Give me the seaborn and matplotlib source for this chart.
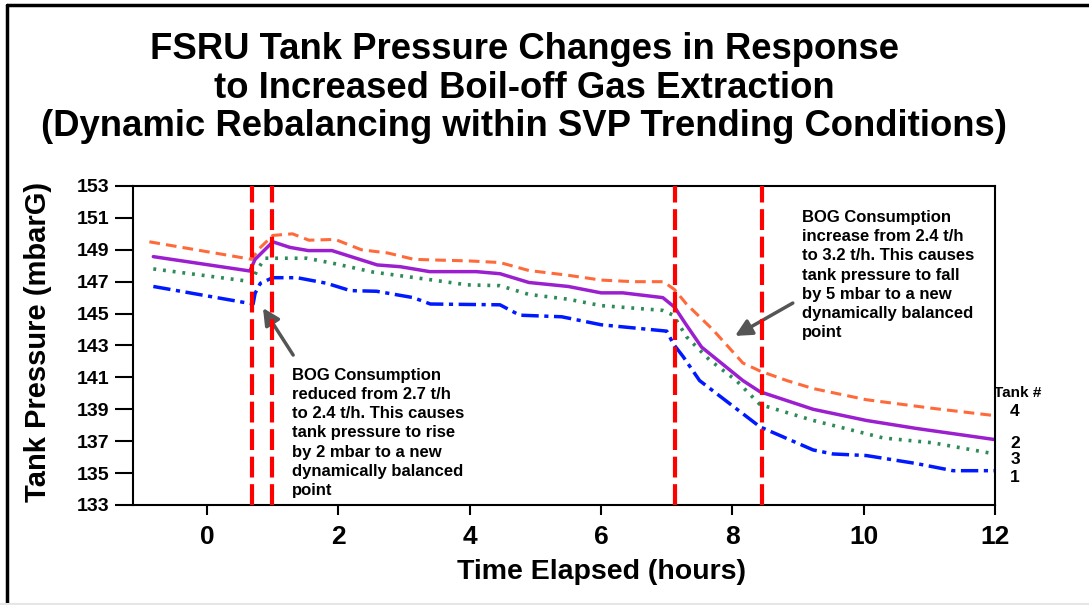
import seaborn as sns
import matplotlib.pyplot as plt
from matplotlib.lines import Line2D

# ---- data ----
t_tank4 = [-0.88, 0.68, 0.8, 1.0, 1.3, 1.55, 1.95, 2.35, 2.75, 3.15, 3.55, 4.0, 4.46,
           4.9, 5.5, 6.0, 6.5, 6.95, 7.12, 7.3, 7.7, 8.16, 8.42, 8.83, 9.23, 10.04, 11.05, 12.0]
p_tank4 = [149.5, 148.4, 149.1, 149.9, 150.0, 149.6, 149.65, 149.0, 148.8, 148.4, 148.35, 148.3, 148.2,
           147.7, 147.4, 147.1, 147.0, 147.0, 146.5, 145.6, 144.0, 141.9, 141.4, 140.8, 140.3, 139.6, 139.06, 138.6]

t_tank2 = [-0.82, 0.65, 0.73, 1.0, 1.26, 1.54, 1.9, 2.59, 2.94, 3.39, 4.1, 4.46, 4.9, 5.5,
           6.0, 6.33, 6.94, 7.12, 7.28, 7.53, 7.8, 8.16, 8.42, 9.23, 10.04, 10.8, 12.0]
p_tank2 = [148.57, 147.67, 148.4, 149.5, 149.15, 148.95, 148.95, 148.05, 147.94, 147.63, 147.63, 147.5, 146.95, 146.7,
           146.3, 146.3, 146.0, 145.4, 144.4, 142.9, 142.0, 140.8, 140.1, 139.0, 138.3, 137.8, 137.1]

t_tank3 = [-0.82, 0.68, 0.76, 0.88, 1.52, 1.92, 2.53, 3.44, 3.96, 4.46, 4.9, 5.5, 6.0,
           6.63, 6.94, 7.1, 7.3, 7.65, 8.06, 8.42, 9.23, 10.3, 11.05, 12.0]
p_tank3 = [147.8, 147.0, 147.73, 148.47, 148.47, 148.15, 147.6, 147.1, 146.8, 146.75, 146.2, 145.9, 145.5,
           145.3, 145.2, 144.9, 143.55, 142.1, 140.8, 139.3, 138.3, 137.2, 136.9, 136.2]

t_tank1 = [-0.82, 0.7, 0.73, 0.81, 1.0, 1.37, 1.82, 2.18, 2.58, 3.14, 3.4, 4.46, 4.76, 5.4,
           6.0, 7.0, 7.1, 7.25, 7.5, 8.42, 9.23, 9.53, 10.04, 10.8, 11.36, 12.0]
p_tank1 = [146.7, 145.6, 146.27, 146.9, 147.25, 147.25, 146.9, 146.44, 146.4, 146.0, 145.6, 145.55, 144.9, 144.8,
           144.3, 143.9, 143.1, 142.3, 140.8, 137.9, 136.45, 136.2, 136.1, 135.6, 135.15, 135.15]

event_times = [0.685, 0.99, 7.12, 8.45]
x_ticks = [0, 2, 4, 6, 8, 10, 12]
y_ticks = list(range(133, 154, 2))
tank_labels = ["4", "2", "3", "1"]

# ---- style ----
sns.set_style("white")
plt.rcParams["font.family"] = ["Liberation Sans", "DejaVu Sans"]
plt.rcParams["font.weight"] = "bold"
for key in ["text.color", "axes.labelcolor", "xtick.color", "ytick.color"]:
    plt.rcParams[key] = "black"

fig = plt.figure(figsize=(10.89, 6.05), dpi=100)
ax = fig.add_axes([0.1221, 0.1653, 0.7916, 0.5273])

# ---- lines ----
sns.lineplot(x=t_tank4, y=p_tank4, ax=ax, color="#ff6a3a", lw=2.2, sort=False,
             estimator=None, linestyle=(0, (3.5, 2)))
sns.lineplot(x=t_tank2, y=p_tank2, ax=ax, color="#9b1fcf", lw=2.5, sort=False, estimator=None)
sns.lineplot(x=t_tank3, y=p_tank3, ax=ax, color="#2e8b57", lw=2.6, sort=False,
             estimator=None, linestyle=(0, (0.8, 1.9)))
sns.lineplot(x=t_tank1, y=p_tank1, ax=ax, color="#0019ff", lw=2.5, sort=False,
             estimator=None, linestyle=(0, (5, 1.6, 1.2, 1.6)))

for t in event_times:
    ax.axvline(t, color="#ff0000", lw=3, linestyle=(0, (5, 1.6)), zorder=5)

# ---- axes ----
ax.set_xlim(-1.13, 12)
ax.set_ylim(133, 153)
ax.set_xticks(x_ticks)
ax.set_yticks(y_ticks)
ax.tick_params(axis="y", labelsize=14, length=13, width=1.5, direction="out", pad=4, left=True)
ax.tick_params(axis="x", labelsize=19, length=7.5, width=1.5, direction="out", pad=7, bottom=True)
for lab in ax.get_xticklabels() + ax.get_yticklabels():
    lab.set_fontweight("bold")
for s in ax.spines.values():
    s.set_color("black")
    s.set_linewidth(1.5)

ax.set_xlabel("Time Elapsed (hours)", fontsize=20.5, fontweight="bold")
ax.set_ylabel("Tank Pressure (mbarG)", fontsize=21, fontweight="bold")
ax.xaxis.set_label_coords(0.543, -0.17)
ax.yaxis.set_label_coords(-0.094, 0.51)

# ---- annotations ----
note1 = ("BOG Consumption\nreduced from 2.7 t/h\nto 2.4 t/h. This causes\n"
         "tank pressure to rise\nby 2 mbar to a new\ndynamically balanced\npoint")
note2 = ("BOG Consumption\nincrease from 2.4 t/h\nto 3.2 t/h. This causes\n"
         "tank pressure to fall\nby 5 mbar to a new\ndynamically balanced\npoint")
ax.text(1.29, 141.6, note1, fontsize=12, fontweight="bold", va="top", ha="left", linespacing=1.35)
ax.text(9.06, 151.5, note2, fontsize=12, fontweight="bold", va="top", ha="left", linespacing=1.35)

arrow = dict(arrowstyle="-|>", color="#555555", lw=2.5, mutation_scale=25, shrinkA=0, shrinkB=0)
ax.annotate("", xy=(0.85, 145.35), xytext=(1.31, 142.4), arrowprops=arrow)
ax.annotate("", xy=(8.04, 143.6), xytext=(8.92, 145.66), arrowprops=arrow)

# ---- tank labels on the right ----
fig.text(1018 / 1089, 1 - 393 / 605, "Tank #", fontsize=11, fontweight="bold",
         ha="center", va="center")
for lab, ypx in zip(tank_labels, [411, 444, 460, 478]):
    fig.text(1015 / 1089, 1 - ypx / 605, lab, fontsize=12.5, fontweight="bold",
             ha="center", va="center")

# ---- title ----
fig.text(524 / 1089, 1 - 88 / 605,
         "FSRU Tank Pressure Changes in Response\nto Increased Boil-off Gas Extraction\n"
         "(Dynamic Rebalancing within SVP Trending Conditions)",
         fontsize=26.3, fontweight="bold", ha="center", va="center", linespacing=1.14)

# ---- frame around the slide ----
fig.add_artist(Line2D([7 / 1089, 7 / 1089], [0, 1 - 5 / 605], color="black", lw=2.5))
fig.add_artist(Line2D([7 / 1089, 1], [1 - 5 / 605, 1 - 5 / 605], color="black", lw=2.5))
fig.add_artist(Line2D([0, 1], [1.5 / 605, 1.5 / 605], color="#e6e6e6", lw=1.5))

fig.savefig("out.png", dpi=100)
